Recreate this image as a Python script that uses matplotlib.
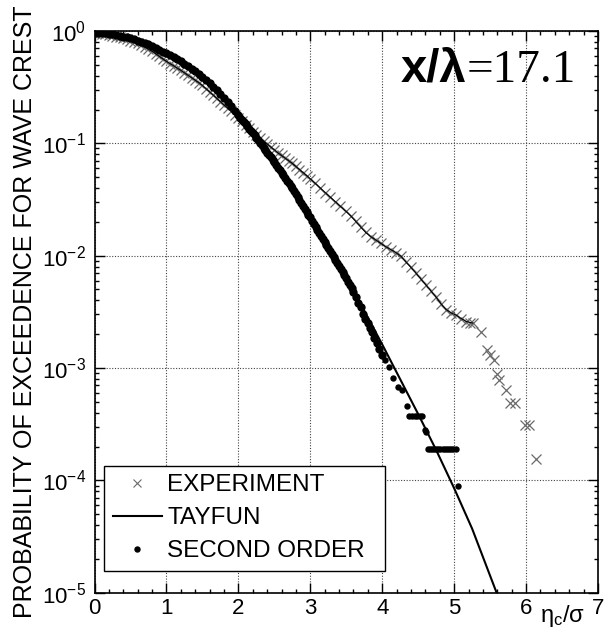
import matplotlib
matplotlib.use('Agg')
import numpy as np
import matplotlib.pyplot as plt
from matplotlib.ticker import MultipleLocator, LogLocator, NullFormatter, FuncFormatter
from matplotlib.lines import Line2D

plt.rcParams['font.family'] = ['Liberation Sans', 'DejaVu Sans']
plt.rcParams['mathtext.fontset'] = 'custom'
plt.rcParams['mathtext.rm'] = 'Liberation Sans'
plt.rcParams['mathtext.it'] = 'Liberation Sans'

# ---------------- data (log10 of exceedance probability) ----------------
exp_x = [0.00, 0.05, 0.10, 0.15, 0.20, 0.25, 0.30, 0.35, 0.40, 0.45, 0.50, 0.55,
         0.60, 0.65, 0.70, 0.75, 0.80, 0.85, 0.90, 0.95, 1.00, 1.05, 1.10, 1.15,
         1.20, 1.25, 1.30, 1.35, 1.40, 1.45, 1.50, 1.55, 1.60, 1.65, 1.70, 1.75,
         1.80, 1.85, 1.90, 1.95, 2.00, 2.05, 2.10, 2.15, 2.20, 2.25, 2.30, 2.35,
         2.40, 2.45, 2.50, 2.55, 2.60, 2.65, 2.70, 2.75, 2.80, 2.85, 2.90, 2.95,
         3.00, 3.07, 3.14, 3.21, 3.28, 3.35, 3.42, 3.49, 3.56, 3.63, 3.70, 3.77,
         3.84, 3.91, 3.98, 4.05, 4.12, 4.19, 4.26, 4.33, 4.40, 4.47, 4.54, 4.61,
         4.68, 4.75, 4.82, 4.89, 4.96, 5.03, 5.10, 5.17, 5.22, 5.26, 5.38, 5.45,
         5.50, 5.55, 5.59, 5.63, 5.72, 5.78, 5.85, 5.98, 6.04, 6.14]
exp_logp = [-0.020, -0.022, -0.025, -0.030, -0.035, -0.042, -0.050, -0.057, -0.065,
            -0.075, -0.087, -0.098, -0.110, -0.127, -0.144, -0.162, -0.180, -0.202,
            -0.225, -0.248, -0.270, -0.290, -0.310, -0.330, -0.350, -0.372, -0.394,
            -0.416, -0.438, -0.460, -0.485, -0.513, -0.542, -0.571, -0.600, -0.629,
            -0.658, -0.687, -0.716, -0.745, -0.775, -0.805, -0.835, -0.865, -0.895,
            -0.925, -0.952, -0.979, -1.006, -1.032, -1.058, -1.084, -1.108, -1.132,
            -1.155, -1.179, -1.206, -1.233, -1.260, -1.287, -1.316, -1.357, -1.398,
            -1.439, -1.480, -1.520, -1.561, -1.602, -1.644, -1.694, -1.744, -1.793,
            -1.830, -1.860, -1.890, -1.920, -1.946, -1.972, -2.005, -2.056, -2.105,
            -2.156, -2.210, -2.262, -2.316, -2.370, -2.430, -2.480, -2.510, -2.530,
            -2.560, -2.586, -2.595, -2.600, -2.675, -2.840, -2.880, -2.930, -3.050,
            -3.105, -3.200, -3.310, -3.310, -3.505, -3.505, -3.810]

tayfun_x = [0.00, 0.25, 0.50, 0.75, 1.00, 1.25, 1.50, 1.75, 2.00, 2.25, 2.50, 2.75,
            3.00, 3.25, 3.50, 3.75, 4.00, 4.25, 4.50, 4.75, 5.00, 5.25, 5.59]
tayfun_logp = [-0.015, -0.030, -0.065, -0.120, -0.200, -0.290, -0.410, -0.560, -0.750,
               -0.950, -1.170, -1.400, -1.660, -1.930, -2.200, -2.490, -2.790, -3.100,
               -3.410, -3.730, -4.070, -4.430, -5.000]

# second-order simulation: dense band
so_band_x = [0.00, 0.05, 0.10, 0.15, 0.20, 0.25, 0.30, 0.35, 0.40, 0.45, 0.50, 0.55,
             0.60, 0.65, 0.70, 0.75, 0.80, 0.85, 0.90, 0.95, 1.00, 1.05, 1.10, 1.15,
             1.20, 1.25, 1.30, 1.35, 1.40, 1.45, 1.50, 1.55, 1.60, 1.65, 1.70, 1.75,
             1.80, 1.85, 1.90, 1.95, 2.00, 2.05, 2.10, 2.15, 2.20, 2.25, 2.30, 2.35,
             2.40, 2.45, 2.50, 2.55, 2.60, 2.65, 2.70, 2.75, 2.80, 2.85, 2.90, 2.95,
             3.00, 3.05, 3.10, 3.15, 3.20, 3.25, 3.30, 3.35, 3.40, 3.45, 3.50,
             3.55, 3.60, 3.64, 3.67, 3.70, 3.73, 3.76, 3.80, 3.83, 3.86, 3.89, 3.93,
             3.96, 4.00,
             2.025, 2.075, 2.125, 2.175, 2.225, 2.275, 2.325, 2.375, 2.425, 2.475,
             2.525, 2.575, 2.625, 2.675, 2.725, 2.775, 2.825, 2.875, 2.925, 2.975,
             3.025, 3.075, 3.125, 3.175, 3.225, 3.275, 3.325, 3.375, 3.425, 3.475,
             3.525, 3.575]
so_band_logp = [-0.015, -0.016, -0.018, -0.021, -0.025, -0.030, -0.036, -0.043, -0.050,
                -0.057, -0.065, -0.075, -0.086, -0.097, -0.108, -0.120, -0.135, -0.150,
                -0.166, -0.183, -0.200, -0.217, -0.234, -0.252, -0.271, -0.290, -0.312,
                -0.335, -0.360, -0.385, -0.410, -0.438, -0.467, -0.497, -0.528, -0.560,
                -0.597, -0.634, -0.672, -0.711, -0.750, -0.790, -0.830, -0.870, -0.910,
                -0.950, -0.994, -1.038, -1.082, -1.126, -1.170, -1.216, -1.262, -1.308,
                -1.354, -1.400, -1.452, -1.504, -1.556, -1.608, -1.660, -1.714, -1.768,
                -1.822, -1.876, -1.930, -1.984, -2.038, -2.092, -2.146, -2.200,
                -2.260, -2.320, -2.370, -2.420, -2.460, -2.520, -2.560, -2.600, -2.640,
                -2.680, -2.730, -2.780, -2.830, -2.880,
                -0.770, -0.810, -0.850, -0.890, -0.930, -0.972, -1.016, -1.060, -1.104,
                -1.148, -1.193, -1.239, -1.285, -1.331, -1.377, -1.426, -1.478, -1.530,
                -1.582, -1.634, -1.687, -1.741, -1.795, -1.849, -1.903, -1.957, -2.011,
                -2.065, -2.119, -2.173, -2.230, -2.290]
# second-order simulation: sparse tail
so_tail_x = [4.04, 4.09, 4.15, 4.22, 4.27, 4.34,
             4.37, 4.41, 4.45, 4.49, 4.53, 4.56, 4.59, 4.61,
             4.63, 4.66, 4.69, 4.72, 4.75, 4.78, 4.81, 4.84, 4.87, 4.90, 4.93, 4.96,
             4.99, 5.02, 5.05]
so_tail_logp = [-2.930, -2.990, -3.090, -3.170, -3.200, -3.340,
                -3.430, -3.430, -3.430, -3.430, -3.430, -3.430, -3.550, -3.570,
                -3.720, -3.720, -3.720, -3.720, -3.720, -3.720, -3.720, -3.720, -3.720,
                -3.720, -3.720, -3.720, -3.720, -3.720, -4.050]

x_ticks = [0, 1, 2, 3, 4, 5, 6, 7]
y_decades = [-5, -4, -3, -2, -1, 0]

# ---------------- figure ----------------
W, H = 608, 637
fig = plt.figure(figsize=(W / 100, H / 100), dpi=100)
ax = fig.add_axes([94.5 / W, 1 - 592.7 / H, (598 - 94.5) / W, (592.7 - 31) / H])

exp_x_a = np.array(exp_x)
exp_p = 10 ** np.array(exp_logp)
ax.plot(exp_x_a, exp_p, ls='none', marker='x', ms=6.5, mew=0.9, color='#6a6a6a',
        zorder=3)
sel = exp_x_a <= 5.27
ax.plot(exp_x_a[sel], exp_p[sel], color='black', lw=0.8, zorder=3.5)

ax.plot(tayfun_x, 10 ** np.array(tayfun_logp), color='black', lw=1.5, zorder=4)
ax.plot(so_band_x, 10 ** np.array(so_band_logp), ls='none', marker='o', ms=6.0,
        mew=0, color='black', zorder=5)
ax.plot(so_tail_x, 10 ** np.array(so_tail_logp), ls='none', marker='o', ms=4.6,
        mew=0, color='black', zorder=5)

ax.set_yscale('log')
ax.set_xlim(x_ticks[0], x_ticks[-1])
ax.set_ylim(10.0 ** y_decades[0], 10.0 ** y_decades[-1])
ax.set_xticks(x_ticks)
ax.xaxis.set_minor_locator(MultipleLocator(0.2))
ax.set_yticks([10.0 ** d for d in y_decades])
ax.yaxis.set_minor_locator(LogLocator(base=10, subs=np.arange(2, 10), numticks=20))
ax.yaxis.set_minor_formatter(NullFormatter())
ax.yaxis.set_major_formatter(FuncFormatter(
    lambda v, p: r'$\mathregular{10^{%d}}$' % int(round(np.log10(v)))))

ax.tick_params(which='both', direction='in', top=True, right=True, width=1.0,
               colors='black')
ax.tick_params(which='major', length=7.2, labelsize=16)
ax.tick_params(axis='x', which='major', pad=4)
ax.tick_params(axis='y', which='major', pad=6)
ax.tick_params(which='minor', length=3.1)
for s in ax.spines.values():
    s.set_linewidth(1.2)

ax.grid(which='major', ls=(0, (1, 1.5)), color='#444444', lw=0.8)
ax.set_axisbelow(True)

handles = [
    Line2D([], [], ls='none', marker='x', ms=5.5, mew=0.8, color='#6a6a6a'),
    Line2D([], [], color='black', lw=1.5),
    Line2D([], [], ls='none', marker='o', ms=4.6, mew=0, color='black'),
]
labels = ['EXPERIMENT', 'TAYFUN', 'SECOND ORDER']
leg = ax.legend(handles, labels, loc='lower left',
                bbox_to_anchor=((104 - 94.5) / 503.5, (592.7 - 570.7) / 561.7,
                                (385 - 104) / 503.5, (570.7 - 463) / 561.7),
                mode='expand', borderaxespad=0, fontsize=17.5, frameon=True,
                fancybox=False, framealpha=1, edgecolor='black',
                handlelength=2.05, handletextpad=0.2, labelspacing=0.45,
                borderpad=0.35)
leg.get_frame().set_linewidth(1.0)

fig.text(25.5 / W, 1 - 312 / H, 'PROBABILITY OF EXCEEDENCE FOR WAVE CREST',
         rotation=90, ha='center', va='center', fontsize=18)

fig.text(466.5 / W, 1 - 81.7 / H, 'x/\u03bb', ha='right', va='baseline',
         fontsize=34, fontweight='bold', family=['Liberation Sans', 'DejaVu Sans'])
fig.text(467 / W, 1 - 81.7 / H, '=17.1', ha='left', va='baseline',
         fontsize=34, family=['Liberation Serif', 'DejaVu Serif'])

fig.text(540 / W, 1 - 622 / H, r'$\mathregular{\eta_c/\sigma}$', ha='left',
         va='baseline', fontsize=17)

fig.savefig('out.png', dpi=100)
